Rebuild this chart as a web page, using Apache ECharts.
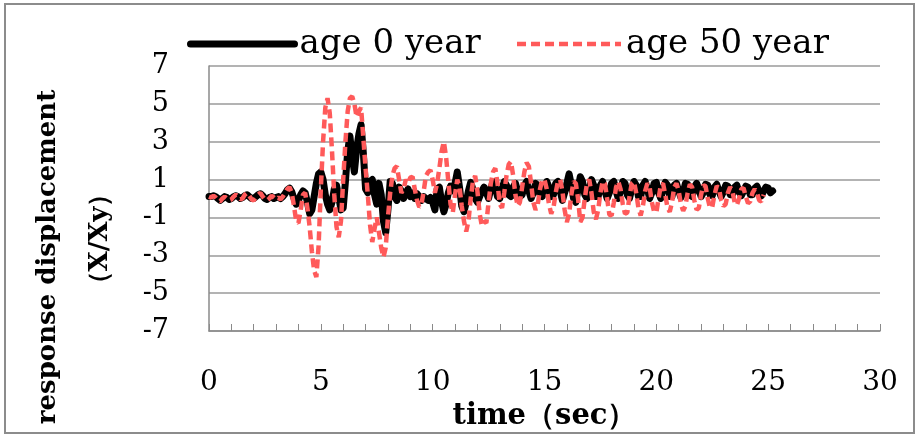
<!DOCTYPE html>
<html>
<head>
<meta charset="utf-8">
<script src="https://cdn.jsdelivr.net/npm/echarts@6.0.0/dist/echarts.min.js"></script>
<style>
  html, body { margin: 0; padding: 0; background: #fff; }
  #main { width: 919px; height: 439px; }
</style>
</head>
<body>
<div id="main"></div>
<script>
// sample step of both records (sec)
var dt = 0.1;

// response displacement X/Xy, age 0 year (black)
var age0 = [
  0.1, 0.1, 0.15, 0.1, 0.0, -0.1, 0.0, 0.1, 0.05, -0.05,
  0.0, 0.1, 0.15, 0.1, 0.0, 0.05, 0.15, 0.2, 0.1, 0.0,
  0.0, 0.1, 0.2, 0.25, 0.15, 0.0, -0.05, 0.05, 0.1, 0.0,
  0.05, 0.1, 0.0, 0.1, 0.25, 0.45, 0.55, 0.35, 0.0, -0.3,
  -0.1, 0.2, 0.4, 0.3, -0.2, -0.8, -0.6, 0.1, 0.8, 1.3,
  1.4, 1.0, 0.2, -0.3, -0.6, -0.2, 0.5, 0.7, 0.1, -0.6,
  -0.5, 0.9, 2.5, 3.3, 2.2, 1.4, 2.6, 3.4, 3.9, 2.4,
  0.5, 0.3, 0.9, 1.0, 0.2, -0.3, 0.8, 0.2, -1.2, -1.8,
  -0.6, 0.9, 0.8, 0.1, -0.1, 0.6, 0.4, 0.0, 0.3, 0.5,
  0.1, 0.3, 0.0, 0.25, 0.1, -0.1, 0.1, 0.0, -0.1, 0.05,
  -0.2, -0.6, 0.5, 0.6, -0.2, -0.7, -0.3, 0.3, 0.65, 0.4,
  0.8, 1.4, 0.6, -0.4, -0.7, -0.2, 0.4, 0.85, 0.5, 0.0,
  -0.2, 0.1, 0.4, 0.6, 0.3, 0.0, 0.5, 0.9, 0.6, 0.1,
  0.0, 0.5, 0.9, 0.7, 0.2, 0.1, 0.6, 0.8, 0.4, 0.1,
  0.2, 0.7, 0.9, 0.4, 0.0, 0.3, 0.8, 0.7, 0.2, 0.1,
  0.5, 0.9, 0.6, 0.1, 0.2, 0.8, 0.9, 0.4, -0.1, 0.3,
  0.8, 1.3, 0.7, 0.0, -0.2, 0.5, 1.15, 0.9, 0.2, 0.0,
  0.5, 1.0, 0.7, 0.1, 0.1, 0.7, 0.9, 0.4, 0.0, 0.3,
  0.8, 0.9, 0.4, 0.0, 0.4, 0.9, 0.8, 0.2, 0.0, 0.5,
  0.9, 0.7, 0.1, 0.1, 0.7, 0.9, 0.5, 0.0, 0.3, 0.8,
  0.85, 0.3, 0.0, 0.5, 0.85, 0.7, 0.1, 0.1, 0.7, 0.8,
  0.4, 0.05, 0.3, 0.8, 0.75, 0.2, 0.1, 0.6, 0.8, 0.5,
  0.1, 0.3, 0.75, 0.7, 0.2, 0.15, 0.6, 0.75, 0.4, 0.1,
  0.35, 0.7, 0.65, 0.2, 0.2, 0.6, 0.7, 0.35, 0.15, 0.4,
  0.65, 0.6, 0.2, 0.2, 0.55, 0.65, 0.35, 0.15, 0.4, 0.6,
  0.55, 0.3, 0.4
];

// response displacement X/Xy, age 50 year (red dashed)
var age50 = [
  0.1, 0.05, 0.15, 0.05, -0.1, -0.15, 0.0, 0.1, 0.0, -0.1,
  -0.05, 0.1, 0.2, 0.1, -0.05, 0.0, 0.2, 0.3, 0.15, -0.05,
  -0.1, 0.05, 0.2, 0.3, 0.1, -0.05, -0.1, 0.0, 0.15, 0.05,
  -0.05, 0.05, -0.05, 0.1, 0.3, 0.5, 0.6, 0.3, -0.4, -1.2,
  -1.3, -0.6, 0.2, 0.3, -0.5, -1.5, -2.8, -3.8, -4.15, -2.5,
  0.5, 3.0, 4.8, 5.3, 4.5, 2.5, 0.2, -1.5, -2.05, -1.2,
  1.0, 3.0, 4.6, 5.3, 5.4, 5.0, 4.3, 4.6, 4.8, 3.2,
  1.6, 0.2, -1.4, -2.3, -1.6, -1.0, -1.8, -2.6, -3.1, -2.6,
  -1.0, 0.3, 1.2, 1.6, 1.7, 1.0, 0.3, 0.5, 1.0, 0.8,
  1.1, 1.15, 0.5, -0.1, -0.45, -0.3, 0.4, 1.2, 1.4, 1.5,
  1.0, 0.3, 0.8, 1.6, 2.5, 3.0, 2.2, 0.9, -0.3, -0.75,
  0.2, 1.0, 0.6, -0.4, -1.2, -1.75, -1.2, 0.0, 0.9, 1.2,
  0.4, -0.8, -1.45, -1.2, -1.3, -0.2, 0.8, 1.4, 1.6, 0.8,
  -0.3, -0.5, 0.3, 1.2, 1.8, 1.95, 1.2, 0.2, -0.4, -0.2,
  0.6, 1.4, 1.9, 1.7, 0.8, -0.2, -0.6, -0.3, 0.5, 1.0,
  1.0, 0.5, -0.3, -0.8, -0.5, 0.3, 0.9, 1.0, 0.4, -0.6,
  -1.25, -0.8, 0.2, 0.9, 0.8, 0.0, -1.25, -1.0, 0.0, 0.8,
  1.0, 0.3, -0.7, -1.1, -0.6, 0.3, 0.9, 0.8, 0.0, -0.85,
  -0.9, -0.2, 0.6, 0.9, 0.5, -0.3, -0.8, -0.75, 0.1, 0.8,
  0.9, 0.3, -0.5, -0.9, -0.4, 0.4, 0.8, 0.6, -0.2, -0.7,
  -0.75, 0.0, 0.7, 0.8, 0.2, -0.5, -0.7, -0.2, 0.6, 0.8,
  0.4, -0.3, -0.65, -0.4, 0.3, 0.75, 0.6, -0.1, -0.6, -0.5,
  0.2, 0.7, 0.65, 0.0, -0.5, -0.45, 0.2, 0.65, 0.55, -0.1,
  -0.4, -0.3, 0.3, 0.6, 0.4, -0.2, -0.35, 0.0, 0.5, 0.55,
  0.1, -0.25, -0.15, 0.3, 0.5, 0.3, -0.1, -0.15, 0.2
];

// y tick labels, bottom to top
var yTickLabels = ['-7', '-5', '-3', '-1', '1', '3', '5', '7'];
var seriesNames = ['age 0 year', 'age 50 year'];

function toPairs(arr) {
  return arr.map(function (v, i) { return [Math.round(i * dt * 10) / 10, v]; });
}

var serif = 'DejaVu Serif';
var chart = echarts.init(document.getElementById('main'));

chart.setOption({
  backgroundColor: '#fff',
  animation: false,
  grid: { left: 209, right: 39, top: 66, bottom: 108, outerBoundsMode: 'none' },
  legend: {
    data: [
      { name: seriesNames[0], lineStyle: { width: 7 } },
      { name: seriesNames[1], lineStyle: { width: 4.5 } }
    ],
    left: 182, top: 22,
    itemWidth: 104, itemHeight: 14, itemGap: 34,
    itemStyle: { opacity: 0 },
    textStyle: { fontFamily: serif, fontSize: 34, color: '#000' }
  },
  xAxis: {
    type: 'value', min: 0, max: 30, interval: 5,
    name: 'time（sec）', nameLocation: 'middle', nameGap: 66,
    nameTextStyle: { fontFamily: serif, fontWeight: 'bold', fontSize: 29, color: '#000' },
    axisLine: { onZero: false, lineStyle: { color: '#8a8a8a', width: 1.5 } },
    axisTick: { show: true, inside: true, length: 7, lineStyle: { color: '#8a8a8a' } },
    minorTick: { show: true, splitNumber: 5, length: 7, lineStyle: { color: '#8a8a8a' } },
    axisLabel: { margin: 38, fontFamily: serif, fontSize: 28, color: '#000' },
    splitLine: { show: false }
  },
  yAxis: [
    {
      // data axis
      type: 'value', min: -7, max: 7, position: 'right', show: false,
      splitLine: { show: false }
    },
    {
      // labelled axis drawn with a zero-based range so ticks fall on -7, -5, ... 7
      type: 'value', min: 0, max: 14, interval: 2, position: 'left',
      axisLine: { show: true, lineStyle: { color: '#8a8a8a', width: 1.5 } },
      axisTick: { show: false },
      axisLabel: {
        margin: 40, fontFamily: serif, fontSize: 27, color: '#000',
        formatter: function (v) { return yTickLabels[Math.round(v / 2)]; }
      },
      splitLine: { show: true, lineStyle: { color: '#9a9a9a', width: 1.5 } }
    }
  ],
  graphic: [
    {
      type: 'rect', z: -1,
      shape: { x: 5, y: 4, width: 909, height: 429 },
      style: { fill: 'none', stroke: '#8c8c8c', lineWidth: 2 }
    },
    {
      type: 'text', x: 48, y: 257, rotation: Math.PI / 2,
      style: {
        text: 'response displacement', textAlign: 'center', textVerticalAlign: 'middle',
        font: 'bold 26px "DejaVu Serif"', fill: '#000'
      }
    },
    {
      type: 'text', x: 100, y: 239, rotation: Math.PI / 2,
      style: {
        text: '（X/Xy）', textAlign: 'center', textVerticalAlign: 'middle',
        font: 'bold 26px "DejaVu Serif"', fill: '#000'
      }
    }
  ],
  series: [
    {
      name: seriesNames[0], type: 'line', yAxisIndex: 0,
      data: toPairs(age0), showSymbol: false, symbol: 'none',
      lineStyle: { color: '#000', width: 7, cap: 'round', join: 'round' },
      itemStyle: { color: '#000' }
    },
    {
      name: seriesNames[1], type: 'line', yAxisIndex: 0,
      data: toPairs(age50), showSymbol: false, symbol: 'none',
      lineStyle: { color: '#ff5a5a', width: 4.5, type: [9, 5] },
      itemStyle: { color: '#ff5a5a' }
    }
  ]
});
</script>
</body>
</html>
